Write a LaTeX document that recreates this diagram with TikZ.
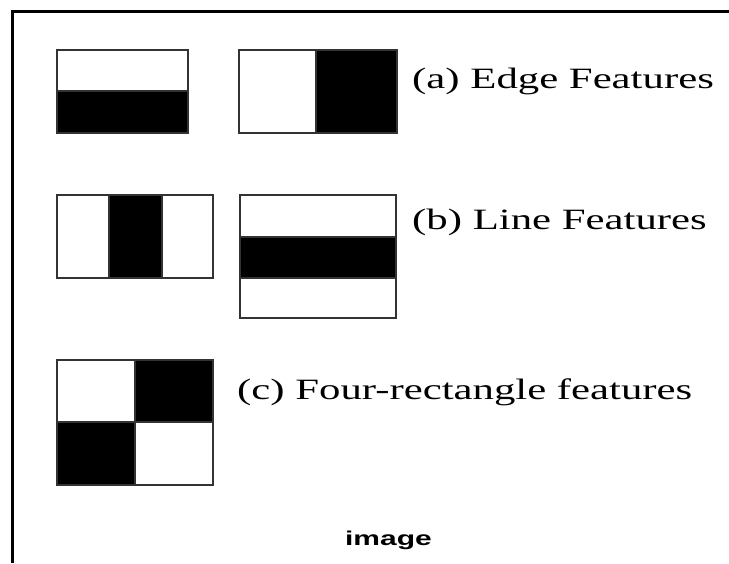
\documentclass[tikz,border=0pt]{standalone}
\usepackage{fontspec}
\setmainfont{Liberation Serif}
\newfontfamily\labelsans{Liberation Sans}
\usepackage{graphicx}
\begin{document}
\begin{tikzpicture}[x=1pt,y=-1pt,
  cell/.style={draw=black!80, line width=2pt},
  shade/.style={fill=black},
  caption/.style={anchor=base west, inner sep=0pt, font=\fontsize{29.5}{34}\selectfont},
]
\useasboundingbox (0,0) rectangle (729,563);
% frame along the top and left
\draw[line width=3pt] (12,563) -- (12,11) -- (729,11);

% (a) edge features
\fill[shade] (57,91) rectangle (188,133);
\draw[cell] (57,50) rectangle (188,133) (57,91) -- (188,91);
\fill[shade] (316,50) rectangle (397,133);
\draw[cell] (239,50) rectangle (397,133) (316,50) -- (316,133);
\node[caption] (capA) at (412,88) {\scalebox{1.45}[1]{(a) Edge Features}};

% (b) line features
\fill[shade] (109,195) rectangle (162,278);
\draw[cell] (57,195) rectangle (213,278) (109,195) -- (109,278) (162,195) -- (162,278);
\fill[shade] (240,237) rectangle (396,278);
\draw[cell] (240,195) rectangle (396,318) (240,237) -- (396,237) (240,278) -- (396,278);
\node[caption] (capB) at (412,229) {\scalebox{1.45}[1]{(b) Line Features}};

% (c) four-rectangle features
\fill[shade] (135,360) rectangle (213,422);
\fill[shade] (57,422) rectangle (135,485);
\draw[cell] (57,360) rectangle (213,485) (135,360) -- (135,485) (57,422) -- (213,422);
\node[caption] (capC) at (237,399) {\scalebox{1.45}[1]{(c) Four-rectangle features}};

% caption below
\node[anchor=base, inner sep=0pt, font=\labelsans\bfseries\fontsize{20}{24}\selectfont] (imgcap) at (388.5,545) {\scalebox{1.5}[1]{image}};
\end{tikzpicture}
\end{document}
